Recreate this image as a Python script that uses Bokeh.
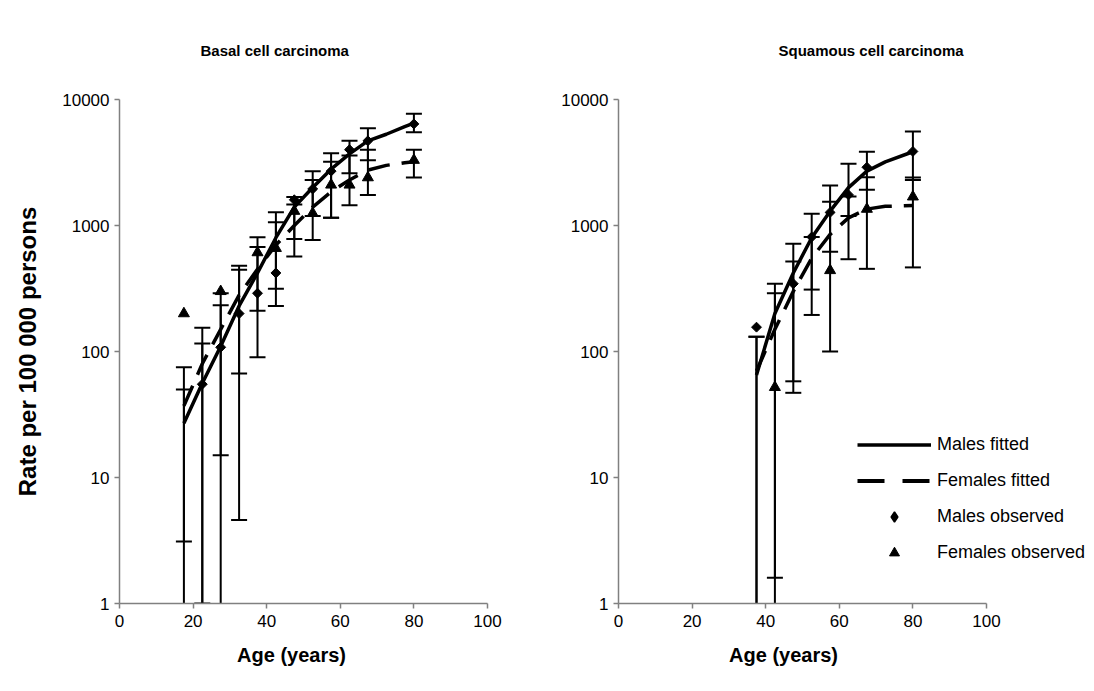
import math
from bokeh.plotting import figure
from bokeh.layouts import row
from bokeh.models import (FixedTicker, NumeralTickFormatter, Legend, LegendItem,
                          Range1d, Title)
from bokeh.embed import file_html
from bokeh.resources import INLINE

nan = float("nan")
FONT = "Liberation Sans"

# ---------------- data ----------------
ages = [17.5, 22.5, 27.5, 32.5, 37.5, 42.5, 47.5, 52.5, 57.5, 62.5, 67.5, 80]

# Basal cell carcinoma
basal_m_obs = [nan, 55, 108, 200, 290, 420, 1600, 1950, 2700, 4000, 4700, 6400]
basal_m_lo = [0.5, 0.5, 15, 4.6, 90, 230, 780, 1190, 1150, 2600, 3300, 5500]
basal_m_hi = [75, 154, 290, 480, 807, 1276, 1680, 2700, 3750, 4700, 5900, 7700]
basal_f_obs = [200, nan, 300, nan, 610, 660, 1300, 1250, 2100, 2100, 2400, 3300]
basal_f_lo = [3.1, 1.0, 0.5, 67, 211, 315, 567, 766, 1150, 1450, 1750, 2400]
basal_f_hi = [50, 116, 233, 445, 675, 1060, 1470, 2300, 3200, 3600, 4000, 4000]
fit_ages = [17.5, 22.5, 27.5, 32.5, 37.5, 42.5, 47.5, 52.5, 57.5, 62.5, 67.5, 72.5, 77.5, 80]
basal_m_fit = [27, 56, 110, 230, 420, 800, 1400, 2000, 2800, 3700, 4700, 5300, 6100, 6500]
basal_f_fit = [37, 80, 150, 280, 450, 700, 1000, 1400, 1850, 2300, 2750, 3000, 3150, 3200]

# Squamous cell carcinoma
sq_ages = [37.5, 42.5, 47.5, 52.5, 57.5, 62.5, 67.5, 80]
sq_m_obs = [156, nan, 345, 810, 1270, 1750, 2900, 3870]
sq_m_lo = [0.5, 1.6, 58, 195, 620, 540, 453, 465]
sq_m_hi = [131, 345, 716, 1240, 2080, 3090, 3850, 5570]
sq_f_obs = [nan, 52, nan, nan, 440, nan, 1350, 1690]
sq_f_lo = [0.5, 0.5, 47, 310, 100, 1190, 1920, 2300]
sq_f_hi = [131, 290, 518, 812, 1540, 1700, 2415, 2400]
sq_fit_ages = [37.5, 42.5, 47.5, 52.5, 57.5, 62.5, 67.5, 72.5, 80]
sq_m_fit = [65, 200, 420, 800, 1300, 2000, 2700, 3200, 3850]
sq_f_fit = [70, 150, 300, 550, 850, 1150, 1350, 1420, 1440]

x_ticks = [0, 20, 40, 60, 80, 100]
y_ticks = [1, 10, 100, 1000, 10000]
x_label = "Age (years)"
y_label = "Rate per 100 000 persons"
legend_labels = ["Males fitted", "Females fitted", "Males observed", "Females observed"]

PX_PER_YEAR = 368 / 100.0


def make_panel(title, title_left, a, m_obs, m_lo, m_hi, f_obs, f_lo, f_hi, fa,
               m_fit, f_fit, left_border, frame_w, right_border, ylabel, xlabel_center):
    x_end = frame_w / PX_PER_YEAR
    p = figure(frame_width=frame_w, frame_height=504, y_axis_type="log",
               x_range=Range1d(0, x_end), y_range=Range1d(1, 10000),
               output_backend="svg", toolbar_location=None,
               min_border_left=left_border, min_border_right=right_border,
               min_border_top=99, min_border_bottom=88)
    p.outline_line_color = None
    p.grid.visible = False
    p.background_fill_color = "white"
    p.border_fill_color = "white"

    t = Title(text=title, align="left", offset=title_left, vertical_align="middle",
              text_font=FONT, text_font_size="15px",
              text_font_style="bold", text_color="black", standoff=80)
    p.add_layout(t, "above")

    for ax in (p.xaxis, p.yaxis):
        ax.axis_line_color = "#808080"
        ax.axis_line_width = 1.5
        ax.major_tick_line_color = "#808080"
        ax.major_tick_line_width = 1.5
        ax.major_tick_out = 5
        ax.major_tick_in = 0
        ax.minor_tick_out = 0
        ax.minor_tick_in = 0
        ax.major_label_text_font = FONT
        ax.major_label_text_font_size = "17px"
        ax.major_label_text_color = "black"
        ax.axis_label_text_font = FONT
        ax.axis_label_text_font_style = "bold"
        ax.axis_label_text_color = "black"
    p.yaxis.axis_label_text_font_size = "24px"
    p.xaxis.ticker = FixedTicker(ticks=x_ticks)
    p.xaxis.bounds = (0, 100)
    p.yaxis.ticker = FixedTicker(ticks=y_ticks, minor_ticks=[])
    p.yaxis.formatter = NumeralTickFormatter(format="0")
    p.xaxis.major_label_standoff = 6

    text_w = 5.446 * 20
    xt = Title(text=x_label, align="left", offset=xlabel_center - text_w / 2,
               vertical_align="top", text_font=FONT, text_font_size="20px",
               text_font_style="bold", text_color="black", standoff=28)
    p.add_layout(xt, "below")
    if ylabel:
        p.yaxis.axis_label = ylabel
        p.yaxis.axis_label_standoff = 18

    # error bars
    for lo, hi in ((m_lo, m_hi), (f_lo, f_hi)):
        p.segment(x0=a, y0=lo, x1=a, y1=hi, line_color="black", line_width=2)
        p.scatter(x=a, y=hi, marker="dash", size=16, line_color="black", line_width=2)
        p.scatter(x=a, y=lo, marker="dash", size=16, line_color="black", line_width=2)

    rm = p.line(fa, m_fit, line_color="black", line_width=3.5)
    p.line(fa, f_fit, line_color="black", line_width=3.5, line_dash="22 12")
    p.scatter(a, m_obs, marker="square", angle=math.pi / 4, size=7,
              fill_color="black", line_color="black")
    rfo = p.scatter(a, f_obs, marker="triangle", size=11,
                    fill_color="black", line_color="black")
    # swatches for legend entries (kept outside the visible area)
    rf = p.line([-50, -49], [0.01, 0.01], line_color="black", line_width=4,
                line_dash="27 18")
    rmo = p.scatter([-50], [0.01], marker="diamond", size=12,
                    fill_color="black", line_color="black", line_width=1.5)
    return p, rm, rf, rmo, rfo


p1, *_ = make_panel("Basal cell carcinoma", 81, ages, basal_m_obs, basal_m_lo,
                    basal_m_hi, basal_f_obs, basal_f_lo, basal_f_hi, fit_ages,
                    basal_m_fit, basal_f_fit, 119, 368, 71, y_label, 172)
p2, rm, rf, rmo, rfo = make_panel("Squamous cell carcinoma", 160, sq_ages, sq_m_obs,
                                  sq_m_lo, sq_m_hi, sq_f_obs, sq_f_lo, sq_f_hi,
                                  sq_fit_ages, sq_m_fit, sq_f_fit, 60, 476, 0, None, 165)

legend = Legend(items=[LegendItem(label=legend_labels[0], renderers=[rm]),
                       LegendItem(label=legend_labels[1], renderers=[rf]),
                       LegendItem(label=legend_labels[2], renderers=[rmo]),
                       LegendItem(label=legend_labels[3], renderers=[rfo])],
                location=(239, 38), glyph_width=74, glyph_height=25,
                label_standoff=6, spacing=11, padding=0, margin=0,
                border_line_color=None, background_fill_alpha=0,
                label_text_font=FONT, label_text_font_size="18px",
                label_text_color="black")
p2.add_layout(legend, "center")

layout = row(p1, p2)
open("out.html", "w").write(file_html(layout, INLINE))
